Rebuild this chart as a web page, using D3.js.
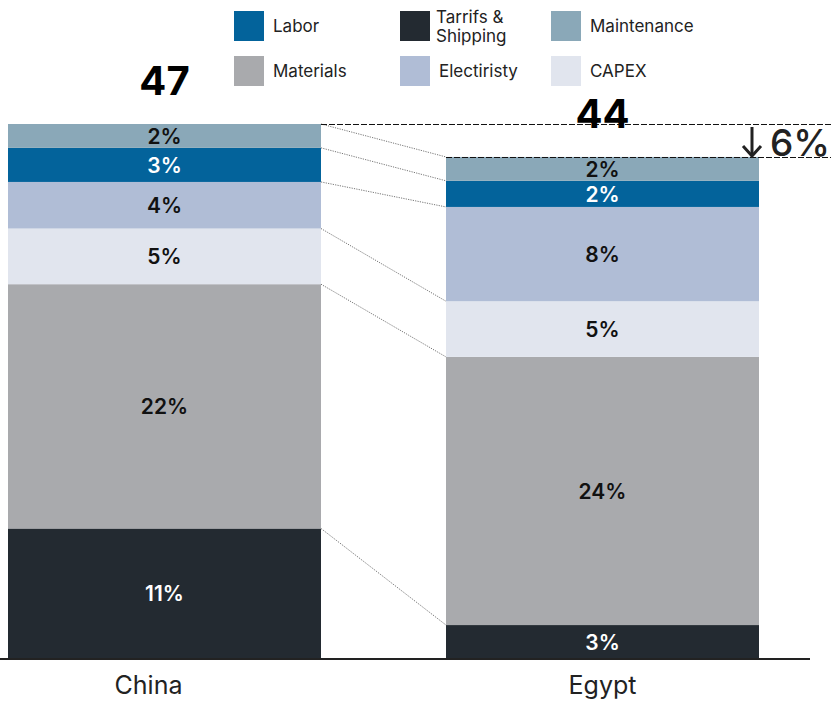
<!DOCTYPE html>
<html>
<head>
<meta charset="utf-8">
<script src="https://cdn.jsdelivr.net/npm/d3@7"></script>
<style>
  body { margin: 0; background: #fff; }
  text { font-family: Inter, "DejaVu Sans", sans-serif; }
</style>
</head>
<body>
<script>
// data
var countries = ["China", "Egypt"];
var series = ["Tarrifs & Shipping", "Materials", "CAPEX", "Electiristy", "Labor", "Maintenance"];
var chinaValues = [11.4, 21.5, 4.9, 4.1, 3.0, 2.1];
var egyptValues = [2.9, 23.6, 4.9, 8.3, 2.3, 2.1];
var legendOrder = ["Labor", "Tarrifs & Shipping", "Maintenance", "Materials", "Electiristy", "CAPEX"];

var colors = {
    "Tarrifs & Shipping": "#232a31",
    "Materials": "#a9aaad",
    "CAPEX": "#e1e5ee",
    "Electiristy": "#b0bdd6",
    "Labor": "#03639b",
    "Maintenance": "#8aa8b8"
};
var whiteText = { "Tarrifs & Shipping": true, "Labor": true };

var width = 831, height = 701;

var rows = countries.map(function (c, i) {
    var vals = i === 0 ? chinaValues : egyptValues;
    var r = { country: c };
    series.forEach(function (s, j) { r[s] = vals[j]; });
    r.total = d3.sum(vals);
    return r;
});

var stacked = d3.stack().keys(series)(rows);

var x = d3.scaleBand()
    .domain(countries)
    .range([8, 759])
    .paddingInner(0.2854);

var y = d3.scaleLinear()
    .domain([0, 47])
    .range([658, 124]);

var svg = d3.select("body").append("svg")
    .attr("width", width)
    .attr("height", height);

// connectors between bars (dotted)
var conn = svg.append("g");
stacked.forEach(function (layer) {
    var a = layer[0], b = layer[1];
    conn.append("line")
        .attr("x1", x("China") + x.bandwidth())
        .attr("y1", y(a[1]))
        .attr("x2", x("Egypt"))
        .attr("y2", y(b[1]))
        .attr("stroke", "#666")
        .attr("stroke-width", 0.9)
        .attr("stroke-dasharray", "1.2,1.2");
});

// bars
var layers = svg.append("g").selectAll("g")
    .data(stacked)
    .join("g")
    .attr("fill", function (d) { return colors[d.key]; });

layers.selectAll("rect")
    .data(function (d) { return d; })
    .join("rect")
    .attr("x", function (d) { return x(d.data.country); })
    .attr("y", function (d) { return y(d[1]); })
    .attr("width", x.bandwidth())
    .attr("height", function (d) { return y(d[0]) - y(d[1]); });

// segment labels
stacked.forEach(function (layer) {
    svg.append("g").selectAll("text")
        .data(layer)
        .join("text")
        .attr("x", function (d) { return x(d.data.country) + x.bandwidth() / 2; })
        .attr("y", function (d) { return (y(d[0]) + y(d[1])) / 2; })
        .attr("dy", "0.38em")
        .attr("text-anchor", "middle")
        .attr("font-size", 21)
        .attr("font-weight", 600)
        .attr("fill", whiteText[layer.key] ? "#fff" : "#111")
        .text(function (d) { return Math.round(d[1] - d[0]) + "%"; });
});

// dashed reference lines at the totals
svg.append("line")
    .attr("x1", x("China") + x.bandwidth()).attr("x2", width)
    .attr("y1", Math.round(y(rows[0].total)) + 0.5).attr("y2", Math.round(y(rows[0].total)) + 0.5)
    .attr("stroke", "#111").attr("stroke-width", 1)
    .attr("stroke-dasharray", "6,2");
svg.append("line")
    .attr("x1", x("Egypt")).attr("x2", width)
    .attr("y1", Math.round(y(rows[1].total)) + 0.5).attr("y2", Math.round(y(rows[1].total)) + 0.5)
    .attr("stroke", "#111").attr("stroke-width", 1)
    .attr("stroke-dasharray", "6,2");

// totals
svg.append("g").selectAll("text")
    .data(rows)
    .join("text")
    .attr("x", function (d) { return x(d.country) + x.bandwidth() / 2; })
    .attr("y", function (d) { return y(d.total) - 29; })
    .attr("text-anchor", "middle")
    .attr("font-family", "'Liberation Sans', Arial, sans-serif")
    .attr("font-weight", "bold")
    .attr("font-size", 40)
    .attr("fill", "#000")
    .text(function (d) { return Math.round(d.total); });

// change arrow + label
var ax = 752, ay0 = y(rows[0].total) + 3, ay1 = y(rows[1].total);
svg.append("line")
    .attr("x1", ax).attr("x2", ax)
    .attr("y1", ay0).attr("y2", ay1 - 2)
    .attr("stroke", "#222").attr("stroke-width", 3);
svg.append("path")
    .attr("d", "M" + (ax - 9) + "," + (ay1 - 11) + " L" + ax + "," + (ay1 - 1) + " L" + (ax + 9) + "," + (ay1 - 11))
    .attr("fill", "none").attr("stroke", "#222").attr("stroke-width", 3);
var change = (rows[0].total - rows[1].total) / rows[0].total;
svg.append("text")
    .attr("x", 770)
    .attr("y", ay1 - 1)
    .attr("font-size", 37)
    .attr("font-weight", 500)
    .attr("fill", "#222")
    .text(Math.round(change * 100) + "%");

// baseline + axis labels
svg.append("line")
    .attr("x1", 0).attr("x2", 810)
    .attr("y1", y(0) + 1).attr("y2", y(0) + 1)
    .attr("stroke", "#222").attr("stroke-width", 2);

var axis = svg.append("g")
    .attr("transform", "translate(0," + y(0) + ")")
    .call(d3.axisBottom(x).tickSize(0).tickPadding(18));
axis.select(".domain").remove();
axis.selectAll("text")
    .attr("font-family", "Inter, 'DejaVu Sans', sans-serif")
    .attr("font-size", 25)
    .attr("fill", "#222")
    .attr("dx", function (d) { return d === "China" ? -16 : 0; });

// legend
var legend = svg.append("g").selectAll("g")
    .data(legendOrder)
    .join("g")
    .attr("transform", function (d, i) {
        var cols = [234, 400, 551];
        return "translate(" + cols[i % 3] + "," + (i < 3 ? 11 : 56) + ")";
    });
legend.append("rect")
    .attr("width", 30).attr("height", 30)
    .attr("fill", function (d) { return colors[d]; });
legend.append("text")
    .attr("x", 39)
    .attr("y", 15)
    .attr("font-size", 17)
    .attr("fill", "#222")
    .each(function (d) {
        var t = d3.select(this);
        if (d === "Tarrifs & Shipping") {
            t.attr("y", 0);
            t.append("tspan").attr("x", 36).attr("y", 12).text("Tarrifs &");
            t.append("tspan").attr("x", 36).attr("y", 31).text("Shipping");
        } else {
            t.attr("dy", "0.35em").text(d);
        }
    });
</script>
</body>
</html>
